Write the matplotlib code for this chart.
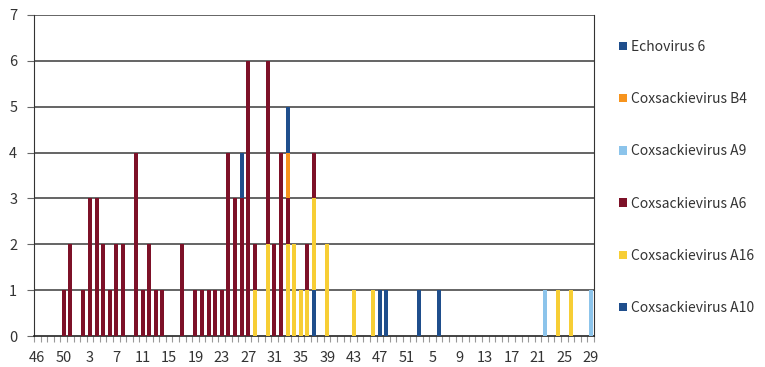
import matplotlib
matplotlib.use('Agg')
import matplotlib.pyplot as plt
import numpy as np
from matplotlib.patches import Patch

plt.rcParams['font.family'] = ['Noto Sans CJK JP', 'DejaVu Sans']

# epidemiological weeks on the x axis
weeks = list(range(46, 53)) + list(range(2, 53)) + list(range(3, 30))
n = len(weeks)

# cases per week: {week index: count}
a10 = {42: 1, 52: 1, 53: 1, 58: 1, 61: 1}
a16 = {33: 1, 35: 2, 38: 2, 39: 2, 40: 1, 41: 1, 42: 2, 44: 2, 48: 1, 51: 1,
       79: 1, 81: 1}
a6 = {4: 1, 5: 2, 7: 1, 8: 3, 9: 3, 10: 2, 11: 1, 12: 2, 13: 2, 15: 4, 16: 1,
      17: 2, 18: 1, 19: 1, 22: 2, 24: 1, 25: 1, 26: 1, 27: 1, 28: 1, 29: 4,
      30: 3, 31: 3, 32: 6, 33: 1, 35: 4, 36: 2, 37: 4, 38: 1, 41: 1, 42: 1}
a9 = {77: 1, 84: 1}
b4 = {38: 1}
e6 = {31: 1, 38: 1}

series = [
    ('Coxsackievirus A10', a10, '#1F4E8C'),
    ('Coxsackievirus A16', a16, '#F7CE35'),
    ('Coxsackievirus A6', a6, '#7D1128'),
    ('Coxsackievirus A9', a9, '#8CC4EB'),
    ('Coxsackievirus B4', b4, '#F7941D'),
    ('Echovirus 6', e6, '#1F4E8C'),
]

fig = plt.figure(figsize=(7.65, 3.67), dpi=100)
ax = fig.add_axes([34 / 765, 1 - 336 / 367, 560 / 765, 321 / 367])

x = np.arange(n)
bottom = np.zeros(n)
handles = []
for name, d, c in series:
    vals = np.array([d.get(i, 0) for i in range(n)], dtype=float)
    ax.bar(x, vals, width=0.6, bottom=bottom, color=c, zorder=3)
    bottom += vals
    handles.append(Patch(facecolor=c, label=name))

ax.set_xlim(-0.5, n - 0.5)
ax.set_ylim(0, 7)

for y in range(1, 8):
    ax.axhline(y, color='#4a4a4a', lw=1.2, zorder=1)

ax.set_xticks(x[::4])
ax.set_xticklabels([str(w) for w in weeks[::4]], fontsize=10.5, color='#333333')
ax.set_xticks(np.arange(-0.5, n, 1), minor=True)
ax.tick_params(axis='x', which='major', length=0, pad=11)
ax.tick_params(axis='x', which='minor', length=4, color='#999999', width=0.8)

ax.set_yticks(range(0, 8))
ax.tick_params(axis='y', length=5, color='#666666', labelsize=10.5,
               labelcolor='#333333', pad=7)

ax.spines['top'].set_visible(False)
ax.spines['right'].set_color('#333333')
ax.spines['left'].set_color('#333333')
ax.spines['bottom'].set_color('#222222')
ax.spines['bottom'].set_linewidth(1.2)

ax.legend(handles=handles[::-1], loc='upper left',
          bbox_to_anchor=(612 / 765, 1 - 33 / 367), bbox_transform=fig.transFigure,
          frameon=False, fontsize=10, handlelength=0.55, handleheight=0.55,
          handletextpad=0.3, labelspacing=2.75, borderpad=0,
          labelcolor='#333333')

fig.savefig('out.png', dpi=100)
